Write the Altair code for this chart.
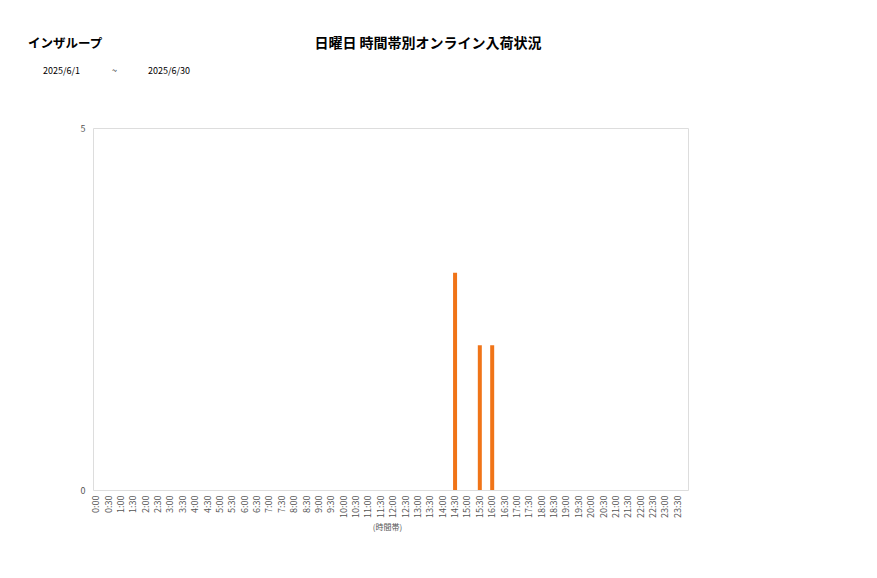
import altair as alt
import pandas as pd

hours = [f"{h}:{m}" for h in range(24) for m in ("00", "30")]
values = [0] * 48
values[hours.index("14:30")] = 3
values[hours.index("15:30")] = 2
values[hours.index("16:00")] = 2

title_text = "日曜日 時間帯別オンライン入荷状況"
group_text = "インザループ"
date_from = "2025/6/1"
date_sep = "~"
date_to = "2025/6/30"

df = pd.DataFrame({"time": hours, "count": values})
FONT = "Noto Sans CJK JP"

bars = alt.Chart(df).mark_bar(color="#F07418", size=4).encode(
    x=alt.X("time:N", sort=hours, title="(時間帯)",
            scale=alt.Scale(paddingInner=0, paddingOuter=0, range=[-3, 591]),
            axis=alt.Axis(labelAngle=270, labelFontSize=9, labelColor="#555555",
                          ticks=False, domain=False, labelPadding=5,
                          titleFontSize=8, titleFontWeight="normal", titleColor="#555555",
                          titlePadding=6, labelFont=FONT, titleFont=FONT)),
    y=alt.Y("count:Q", title=None,
            scale=alt.Scale(domain=[0, 5]),
            axis=alt.Axis(values=[0, 5], grid=False, ticks=False, domain=False,
                          labelFontSize=9, labelColor="#555555", labelPadding=8,
                          labelFont=FONT)),
)

def txt(s, x, y, size, weight="normal", align="left"):
    return alt.Chart(pd.DataFrame({"t": [s]})).mark_text(
        text=s, fontSize=size, fontWeight=weight, align=align, baseline="middle",
        font=FONT, color="#000000"
    ).encode(x=alt.value(x), y=alt.value(y))

texts = (
    txt(title_text, 335, -84, 14, "bold", "center")
    + txt(group_text, -65, -84, 12.5, "bold")
    + txt(date_from, -50, -57, 9)
    + txt(date_sep, 19, -57, 9)
    + txt(date_to, 55, -57, 9)
)

chart = alt.layer(bars, texts).properties(
    width=595, height=362,
    autosize=alt.AutoSizeParams(type="none"),
    padding={"left": 85, "top": 120, "right": 20, "bottom": 70},
).configure_view(stroke="#d9d9d9", strokeWidth=1).configure(background="white")

chart.save("out.html", embed_options={"renderer": "svg", "actions": False})
